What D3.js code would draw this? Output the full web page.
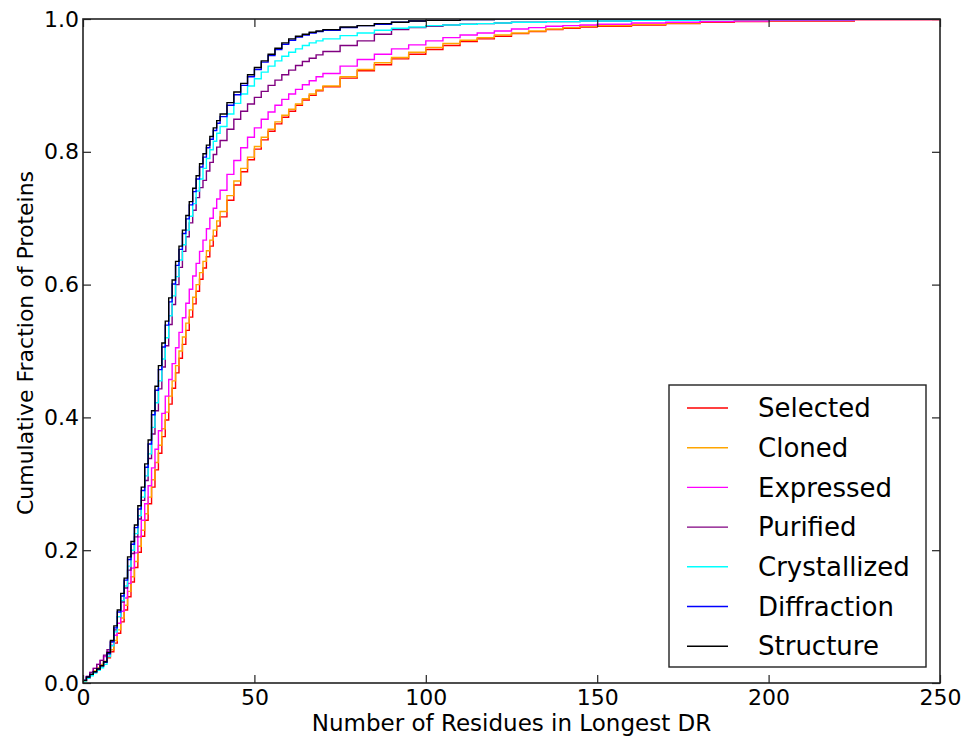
<html>
<title>Cumulative Fraction of Proteins</title>
<script src="https://d3js.org/d3.v7.min.js"></script>
<style>
	body { margin: 0; background: white; }
	text { font-family: "DejaVu Sans", Verdana, sans-serif; fill: black; }
</style>
<body>
<svg id="container" width="969" height="744"></svg>
<script>
// residue counts where the cumulative fractions were read
var residues = [0,1,2,3,4,5,6,7,8,9,
	10,11,12,13,14,15,16,17,18,19,
	20,21,22,23,24,25,26,27,28,29,
	30,31,32,33,34,35,36,37,38,39,40,
	42,44,46,48,50,52,54,56,58,60,62,64,66,68,70,
	75,80,85,90,95,100,
	105,110,115,120,125,130,135,140,145,150,
	160,170,180,190,200,
	225,250];

var selected = [0.003,0.007,0.012,0.017,0.022,0.027,0.032,0.038,0.047,0.060,
	0.075,0.092,0.110,0.130,0.152,0.174,0.197,0.221,0.245,0.270,
	0.295,0.321,0.346,0.371,0.396,0.420,0.444,0.467,0.489,0.510,
	0.531,0.551,0.571,0.590,0.608,0.625,0.642,0.658,0.673,0.688,0.702,
	0.727,0.750,0.770,0.788,0.804,0.818,0.831,0.842,0.852,0.861,0.870,0.878,0.885,0.892,0.898,
	0.911,0.922,0.931,0.940,0.947,0.954,
	0.960,0.966,0.970,0.974,0.978,0.981,0.984,0.986,0.988,0.989,
	0.991,0.993,0.995,0.996,0.997,
	0.999,1];
var cloned = [0.003,0.008,0.013,0.018,0.023,0.028,0.033,0.040,0.050,0.064,
	0.080,0.098,0.117,0.138,0.160,0.183,0.206,0.230,0.255,0.280,
	0.306,0.332,0.358,0.383,0.408,0.432,0.455,0.478,0.500,0.521,
	0.542,0.562,0.581,0.600,0.618,0.635,0.651,0.667,0.682,0.696,0.710,
	0.734,0.756,0.775,0.792,0.808,0.822,0.834,0.845,0.855,0.864,0.872,0.880,0.887,0.893,0.899,
	0.913,0.924,0.934,0.942,0.950,0.957,
	0.963,0.968,0.972,0.976,0.979,0.982,0.985,0.987,0.989,0.990,
	0.992,0.994,0.996,0.997,0.998,
	0.999,1];
var expressed = [0.004,0.010,0.016,0.022,0.028,0.034,0.040,0.047,0.057,0.072,
	0.090,0.108,0.128,0.150,0.173,0.196,0.220,0.245,0.270,0.297,
	0.324,0.352,0.380,0.406,0.432,0.457,0.481,0.505,0.528,0.550,
	0.572,0.593,0.613,0.632,0.650,0.667,0.684,0.700,0.715,0.729,0.742,
	0.766,0.787,0.806,0.822,0.836,0.849,0.860,0.870,0.879,0.887,0.894,0.901,0.907,0.913,0.918,
	0.929,0.939,0.947,0.955,0.961,0.967,
	0.972,0.976,0.979,0.982,0.985,0.987,0.989,0.990,0.991,0.992,
	0.994,0.995,0.996,0.997,0.998,
	0.999,1];
var purified = [0.004,0.010,0.016,0.022,0.028,0.034,0.042,0.050,0.062,0.080,
	0.100,0.122,0.143,0.170,0.195,0.220,0.247,0.275,0.305,0.338,
	0.375,0.410,0.443,0.476,0.508,0.540,0.570,0.600,0.626,0.650,
	0.672,0.693,0.712,0.731,0.746,0.757,0.771,0.784,0.796,0.807,0.817,
	0.834,0.849,0.861,0.872,0.882,0.891,0.900,0.908,0.916,0.923,0.930,0.936,0.941,0.946,0.951,
	0.960,0.967,0.977,0.984,0.987,0.989,
	0.991,0.992,0.993,0.994,0.995,0.995,0.996,0.996,0.997,0.997,
	0.998,0.998,0.999,0.999,0.999,
	1,1];
var crystallized = [0.003,0.007,0.011,0.015,0.019,0.023,0.028,0.040,0.056,0.077,
	0.100,0.124,0.146,0.176,0.200,0.225,0.252,0.280,0.312,0.345,
	0.385,0.422,0.455,0.488,0.520,0.553,0.583,0.612,0.637,0.660,
	0.682,0.703,0.722,0.741,0.759,0.775,0.790,0.803,0.816,0.828,0.838,
	0.857,0.873,0.887,0.899,0.910,0.920,0.929,0.937,0.944,0.950,0.955,0.960,0.964,0.967,0.970,
	0.975,0.979,0.983,0.986,0.988,0.990,
	0.991,0.992,0.993,0.994,0.995,0.995,0.996,0.996,0.997,0.997,
	0.998,0.998,0.999,0.999,0.999,
	1,1];
var diffraction = [0.004,0.009,0.013,0.017,0.021,0.026,0.031,0.044,0.062,0.083,
	0.107,0.131,0.155,0.186,0.209,0.234,0.262,0.290,0.325,0.360,
	0.404,0.441,0.472,0.506,0.539,0.574,0.601,0.629,0.653,0.677,
	0.699,0.720,0.740,0.759,0.777,0.792,0.806,0.819,0.832,0.843,0.853,
	0.870,0.886,0.900,0.913,0.924,0.935,0.945,0.954,0.962,0.968,0.973,0.976,0.979,0.981,0.983,
	0.987,0.990,0.992,0.995,0.997,0.998,
	0.998,0.999,0.999,1,1,1,1,1,1,1,
	1,1,1,1,1,
	1,1];
var structure = [0.004,0.009,0.013,0.017,0.021,0.026,0.032,0.046,0.064,0.086,
	0.110,0.135,0.158,0.190,0.213,0.238,0.267,0.295,0.330,0.366,
	0.410,0.447,0.478,0.512,0.545,0.580,0.607,0.635,0.658,0.682,
	0.704,0.725,0.745,0.764,0.782,0.797,0.810,0.823,0.836,0.847,0.857,
	0.874,0.890,0.903,0.916,0.927,0.937,0.947,0.956,0.964,0.970,0.974,0.977,0.980,0.982,0.984,
	0.988,0.990,0.993,0.995,0.997,0.998,
	0.998,0.999,0.999,1,1,1,1,1,1,1,
	1,1,1,1,1,
	1,1];

var seriesNames = ["Selected", "Cloned", "Expressed", "Purified", "Crystallized", "Diffraction", "Structure"];
var seriesValues = [selected, cloned, expressed, purified, crystallized, diffraction, structure];
var seriesColors = ["#ff0000", "#ffa500", "#ff00ff", "#800080", "#00ffff", "#0000ff", "#000000"];

var xTicks = [0, 50, 100, 150, 200, 250];
var yTicks = [0.0, 0.2, 0.4, 0.6, 0.8, 1.0];

var svg = d3.select("svg"),
	marginLeft = 83, marginTop = 19,
	plotW = 857, plotH = 664;

var x = d3.scaleLinear().domain([0, 250]).range([0, plotW]);
var y = d3.scaleLinear().domain([0, 1]).range([plotH, 0]);

var canvas = svg.append("g")
	.attr("transform", "translate(" + marginLeft + "," + marginTop + ")");

canvas.append("clipPath").attr("id", "clip")
	.append("rect").attr("width", plotW).attr("height", plotH);

var line = d3.line()
	.x(function(d) { return x(d[0]); })
	.y(function(d) { return y(d[1]); })
	.curve(d3.curveStepAfter);

// curves, first series at the bottom
seriesValues.forEach(function(vals, i) {
	var pts = residues.map(function(r, j) { return [r, vals[j]]; });
	canvas.append("path")
		.attr("clip-path", "url(#clip)")
		.attr("d", line(pts))
		.attr("fill", "none")
		.attr("stroke", seriesColors[i])
		.attr("stroke-width", 1.4);
});

// axes with inward ticks on all four sides
var tickLen = 8;
canvas.append("g")
	.attr("transform", "translate(0," + plotH + ")")
	.call(d3.axisBottom(x).tickValues(xTicks).tickSize(-tickLen).tickPadding(6).tickFormat(d3.format("d")))
	.call(function(g) { g.select(".domain").remove(); g.selectAll("text").attr("font-size", 22); });
canvas.append("g")
	.call(d3.axisTop(x).tickValues(xTicks).tickSize(-tickLen).tickFormat(""))
	.call(function(g) { g.select(".domain").remove(); });
canvas.append("g")
	.call(d3.axisLeft(y).tickValues(yTicks).tickSize(-tickLen).tickPadding(4).tickFormat(d3.format(".1f")))
	.call(function(g) { g.select(".domain").remove(); g.selectAll("text").attr("font-size", 22); });
canvas.append("g")
	.attr("transform", "translate(" + plotW + ",0)")
	.call(d3.axisRight(y).tickValues(yTicks).tickSize(-tickLen).tickFormat(""))
	.call(function(g) { g.select(".domain").remove(); });
canvas.selectAll(".tick line").attr("stroke", "#222").attr("stroke-width", 1.2);
canvas.selectAll(".tick text").attr("font-family", "DejaVu Sans");

canvas.append("rect")
	.attr("width", plotW).attr("height", plotH)
	.attr("fill", "none").attr("stroke", "#222").attr("stroke-width", 1.6);

// axis titles
svg.append("text")
	.attr("x", marginLeft + plotW / 2).attr("y", 731)
	.attr("text-anchor", "middle").attr("font-size", 23)
	.text("Number of Residues in Longest DR");
svg.append("text")
	.attr("transform", "translate(33," + (marginTop + plotH / 2 - 8) + ") rotate(-90)")
	.attr("text-anchor", "middle").attr("font-size", 22)
	.text("Cumulative Fraction of Proteins");

// legend
var legend = svg.append("g").attr("transform", "translate(669,385)");
legend.append("rect")
	.attr("width", 257).attr("height", 282)
	.attr("fill", "white").attr("stroke", "#222").attr("stroke-width", 1.4);
seriesNames.forEach(function(name, i) {
	var ly = 23 + i * 39.7;
	legend.append("line")
		.attr("x1", 18).attr("x2", 59).attr("y1", ly).attr("y2", ly)
		.attr("stroke", seriesColors[i]).attr("stroke-width", 1.4);
	legend.append("text")
		.attr("x", 89).attr("y", ly).attr("dy", "0.35em")
		.attr("font-size", 26)
		.text(name);
});
</script>
</body>
</html>
